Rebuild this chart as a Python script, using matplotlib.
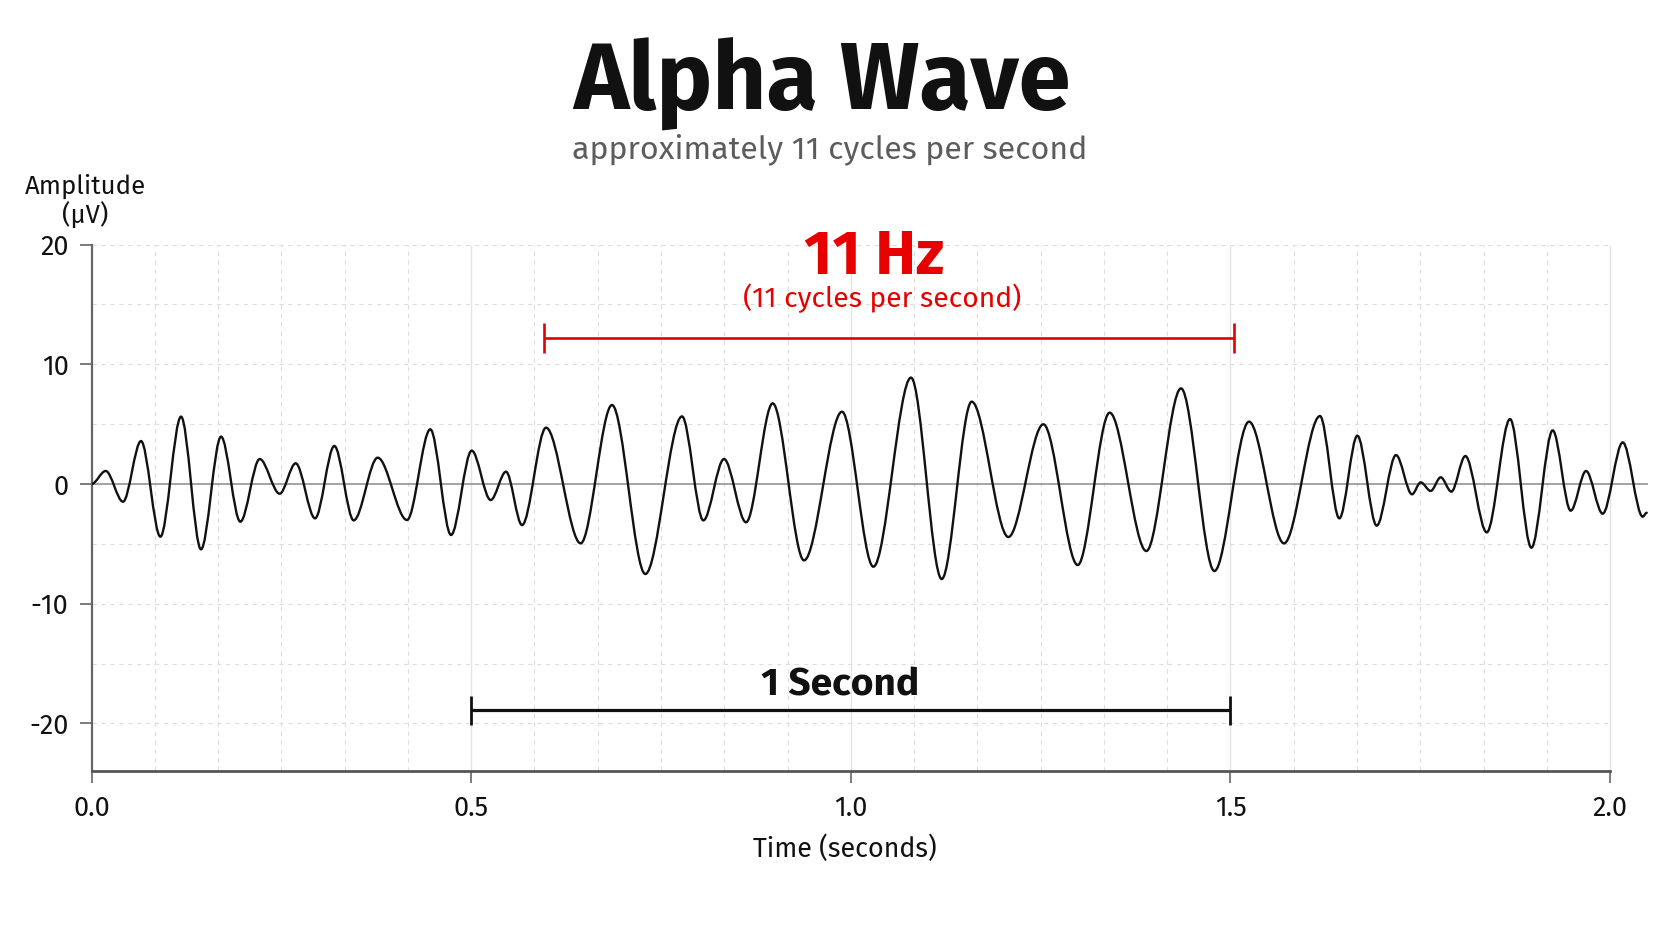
import matplotlib
matplotlib.use('Agg')
import matplotlib.pyplot as plt
from matplotlib.path import Path
from matplotlib.patches import PathPatch

# ---------------- data ----------------
extrema_t = [0.0, 0.0187, 0.0415, 0.0652, 0.0907, 0.1179, 0.1442, 0.1706, 0.1960, 0.2215,
             0.2478, 0.2689, 0.2944, 0.3198, 0.3453, 0.3769, 0.4155, 0.4462, 0.4735, 0.5007,
             0.5257, 0.5459, 0.5670, 0.5986, 0.6442, 0.6855, 0.7294, 0.7777, 0.8058, 0.8330,
             0.8620, 0.8971, 0.9384, 0.9884, 1.0297, 1.0793, 1.1197, 1.1592, 1.2075, 1.2536,
             1.2988, 1.3409, 1.3892, 1.4349, 1.4788, 1.5244, 1.5705, 1.6179, 1.6434, 1.6671,
             1.6926, 1.7180, 1.7391, 1.7505, 1.7637, 1.7769, 1.7909, 1.8093, 1.8375, 1.8682,
             1.8963, 1.9244, 1.9481, 1.9683, 1.9902, 2.0166, 2.0429, 2.0482]
extrema_v = [0.0, 1.09, -1.48, 3.59, -4.40, 5.63, -5.46, 3.96, -3.15, 2.09,
             -0.81, 1.73, -2.87, 3.18, -3.04, 2.20, -3.01, 4.57, -4.26, 2.79,
             -1.34, 1.03, -3.43, 4.71, -4.96, 6.60, -7.52, 5.65, -3.04, 2.09,
             -3.20, 6.74, -6.38, 6.04, -6.91, 8.89, -7.94, 6.88, -4.43, 4.99,
             -6.77, 5.96, -5.60, 7.99, -7.27, 5.21, -4.96, 5.68, -2.87, 4.04,
             -3.48, 2.42, -0.86, 0.14, -0.58, 0.56, -0.64, 2.34, -4.04, 5.43,
             -5.32, 4.48, -2.23, 1.09, -2.48, 3.48, -2.73, -2.40]

x_ticks = [0.0, 0.5, 1.0, 1.5, 2.0]
x_tick_labels = ['0.0', '0.5', '1.0', '1.5', '2.0']
y_ticks = [-20, -10, 0, 10, 20]
y_tick_labels = ['-20', '-10', '0', '10', '20']

second_bar = [0.5, 1.5]          # 1 second scale bar
second_bar_level = -18.9
hz_bar = [0.596, 1.505]          # span of the 11 cycles
hz_bar_level = 12.2

title = 'Alpha Wave'
subtitle = 'approximately 11 cycles per second'
hz_label = '11 Hz'
hz_sub = '(11 cycles per second)'
second_label = '1 Second'
x_label = 'Time (seconds)'
y_label_1 = 'Amplitude'
y_label_2 = '(\u03bcV)'

# ---------------- style ----------------
FONT = 'Fira Sans'
plt.rcParams['font.family'] = [FONT, 'DejaVu Sans']
RED = '#e60000'
INK = '#111111'

fig = plt.figure(figsize=(16.72, 9.41), dpi=100)
fig.patch.set_facecolor('white')
ax = fig.add_axes([0.05473, 0.18034, 0.93097, 0.55972])
ax.set_xlim(0, 2.05)
ax.set_ylim(-24, 20)

# grid
minor_x = [k / 12 for k in range(1, 25) if k % 6 != 0]
ax.vlines(minor_x, -24, 20, colors='#dedede', linestyles=(0, (4, 4)), lw=0.8, zorder=0)
ax.vlines([0.5, 1.0, 1.5, 2.0], -24, 20, colors='#e4e4e4', lw=1.0, zorder=0)
for gv in [-20, -15, -10, -5, 5, 10, 15, 20]:
    ax.hlines(gv, 0, 2.0, colors='#dedede', linestyles=(0, (4, 4)), lw=0.8, zorder=0,
              clip_on=False)

ax.axhline(0, color='#8a8a8a', lw=1.1, zorder=1)

# wave: smooth curve through the read extrema (horizontal tangents at each extremum)
verts = [(extrema_t[0], extrema_v[0])]
codes = [Path.MOVETO]
for i in range(len(extrema_t) - 1):
    t0, v0 = extrema_t[i], extrema_v[i]
    t1, v1 = extrema_t[i + 1], extrema_v[i + 1]
    dt = t1 - t0
    verts += [(t0 + dt / 3, v0), (t1 - dt / 3, v1), (t1, v1)]
    codes += [Path.CURVE4] * 3
ax.add_patch(PathPatch(Path(verts, codes), facecolor='none', edgecolor=INK, lw=1.7,
                       zorder=3, capstyle='round', joinstyle='round'))

# 1 second bar
ax.plot(second_bar, [second_bar_level] * 2, color=INK, lw=2.3, solid_capstyle='butt', zorder=4)
ax.vlines(second_bar, second_bar_level - 1.21, second_bar_level + 1.21, color=INK, lw=2.0, zorder=4)
ax.text(0.986, -17.63, second_label, ha='center', va='baseline', fontsize=28,
        fontweight='bold', color=INK, zorder=5)

# 11 Hz bar
ax.plot(hz_bar, [hz_bar_level] * 2, color=RED, lw=1.9, solid_capstyle='butt', zorder=4)
ax.vlines(hz_bar, hz_bar_level - 1.24, hz_bar_level + 1.24, color=RED, lw=1.9, zorder=4)
ax.text(1.0305, 17.54, hz_label, ha='center', va='baseline', fontsize=44,
        fontweight='bold', color=RED, zorder=5, clip_on=False)
ax.text(1.041, 14.81, hz_sub, ha='center', va='baseline', fontsize=20.3,
        color=RED, zorder=5)

# spines / ticks
for s in ['top', 'right']:
    ax.spines[s].set_visible(False)
ax.spines['left'].set_color('#666666')
ax.spines['left'].set_linewidth(1.6)
ax.spines['bottom'].set_color('#555555')
ax.spines['bottom'].set_linewidth(2.0)
ax.spines['bottom'].set_bounds(0, 2.0)
ax.set_xticks(x_ticks)
ax.set_xticklabels(x_tick_labels)
ax.set_yticks(y_ticks)
ax.set_yticklabels(y_tick_labels)
ax.tick_params(axis='both', direction='out', length=8.6, width=1.2, color='#666666',
               pad=8, labelsize=19.5, labelcolor=INK)

# titles and axis labels
fig.text(0.4914, 0.8833, title, ha='center', va='baseline', fontsize=67.5, fontweight='bold', color=INK)
fig.text(0.4962, 0.8321, subtitle, ha='center', va='baseline', fontsize=23.2, color='#5c5c5c')
fig.text(0.0510, 0.7946, y_label_1, ha='center', va='baseline', fontsize=18.5, color=INK)
fig.text(0.0508, 0.7627, y_label_2, ha='center', va='baseline', fontsize=18.5, color=INK)
fig.text(0.5054, 0.0893, x_label, ha='center', va='baseline', fontsize=19.4, color=INK)

fig.savefig('out.png', dpi=100, facecolor='white')
